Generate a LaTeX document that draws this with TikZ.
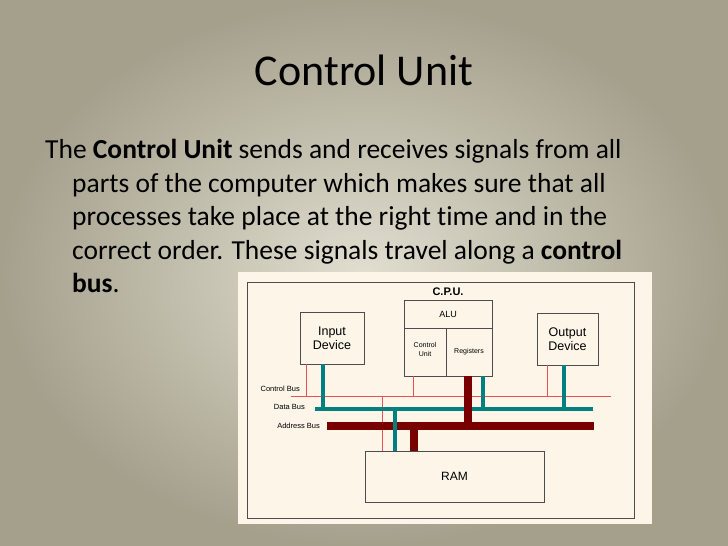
\documentclass[tikz,border=0pt]{standalone}
\usepackage{fontspec}
\setmainfont{Carlito}[Ligatures={NoCommon}]
\newfontfamily\dfont{Liberation Sans}
\definecolor{bgin}{RGB}{225,222,208}
\definecolor{bgout}{RGB}{165,160,140}
\definecolor{panel}{RGB}{252,245,232}
\definecolor{teal2}{RGB}{0,128,128}
\definecolor{maroon2}{RGB}{120,0,0}
\definecolor{ctlred}{RGB}{235,80,80}
\begin{document}
\begin{tikzpicture}[x=1pt,y=-1pt,
  box/.style={draw=black!70,line width=0.8pt,fill=none},
  ctl/.style={draw=ctlred,line width=0.6pt},
  dat/.style={draw=teal2,line width=4pt},
  adr/.style={draw=maroon2,line width=8.5pt},
  lbl/.style={font=\dfont\fontsize{7.5}{8}\selectfont,anchor=east,inner sep=0pt},
  body/.style={anchor=base west,inner sep=0pt,font=\fontsize{27.5}{30}\selectfont}]
\useasboundingbox (0,0) rectangle (728,546);
\shade[inner color=bgin,outer color=bgout] (0,0) rectangle (728,546);
\node[inner sep=0pt,font=\fontsize{44}{48}\selectfont] (title) at (364,70) {Control Unit};
\node[body] (l1) at (45,158) {The \textbf{Control Unit} sends and receives signals from all};
\node[body] (l2) at (72,192) {parts of the computer which makes sure that all};
\node[body] (l3) at (72,225) {processes take place at the right time and in the};
\node[body] (l4) at (72,259) {correct order. These signals travel along a \textbf{control}};
\node[body] (l5) at (72,292) {\textbf{bus}.};
% panel
\fill[panel] (238,272) rectangle (652,524);
\draw[box] (247,282) rectangle (634,518);
\node[font=\dfont\bfseries\fontsize{11}{12}\selectfont] (cpu) at (448,292) {C.P.U.};
\draw[box] (404,300) rectangle (492,376);
\draw[box] (404,328) -- (492,328);
\draw[box] (446,328) -- (446,376);
\node[font=\dfont\fontsize{9}{10}\selectfont] (alu) at (448,314) {ALU};
\node[font=\dfont\fontsize{7}{9}\selectfont,align=center] (cu) at (425,349) {Control\\Unit};
\node[font=\dfont\fontsize{7}{8}\selectfont] (reg) at (469,352) {Registers};
\node[box,minimum width=64pt,minimum height=52pt,align=center,font=\dfont\fontsize{12.5}{14}\selectfont] (in) at (332,338) {Input\\Device};
\node[box,minimum width=61pt,minimum height=52pt,align=center,font=\dfont\fontsize{12.5}{14}\selectfont] (out) at (567.5,339) {Output\\Device};
\node[box,minimum width=179pt,minimum height=51pt,font=\dfont\fontsize{12}{14}\selectfont] (ram) at (454.5,476.5) {RAM};
% buses
\coordinate (cb1) at (291,396); \coordinate (cb2) at (611,396);
\coordinate (db1) at (315,409); \coordinate (db2) at (593,409);
\coordinate (ab1) at (327,426); \coordinate (ab2) at (594,426);
\draw[ctl] (cb1) -- (cb2);
\draw[ctl] (306,364) -- (306,396);
\draw[ctl] (413,376) -- (413,396);
\draw[ctl] (547,365) -- (547,396);
\draw[ctl] (382,396) -- (382,451);
\draw[dat] (db1) -- (db2);
\draw[dat] (323,364) -- (323,409);
\draw[dat] (483,376) -- (483,409);
\draw[dat] (564,365) -- (564,409);
\draw[adr] (ab1) -- (ab2);
\draw[adr] (468,376) -- (468,426);
\draw[adr] (414,426) -- (414,451);
\draw[dat] (395,409) -- (395,451);
\node[lbl] (lc) at (300,389) {Control Bus};
\node[lbl] (ld) at (305,407) {Data Bus};
\node[lbl] (la) at (320,426) {Address Bus};
\end{tikzpicture}
\end{document}
